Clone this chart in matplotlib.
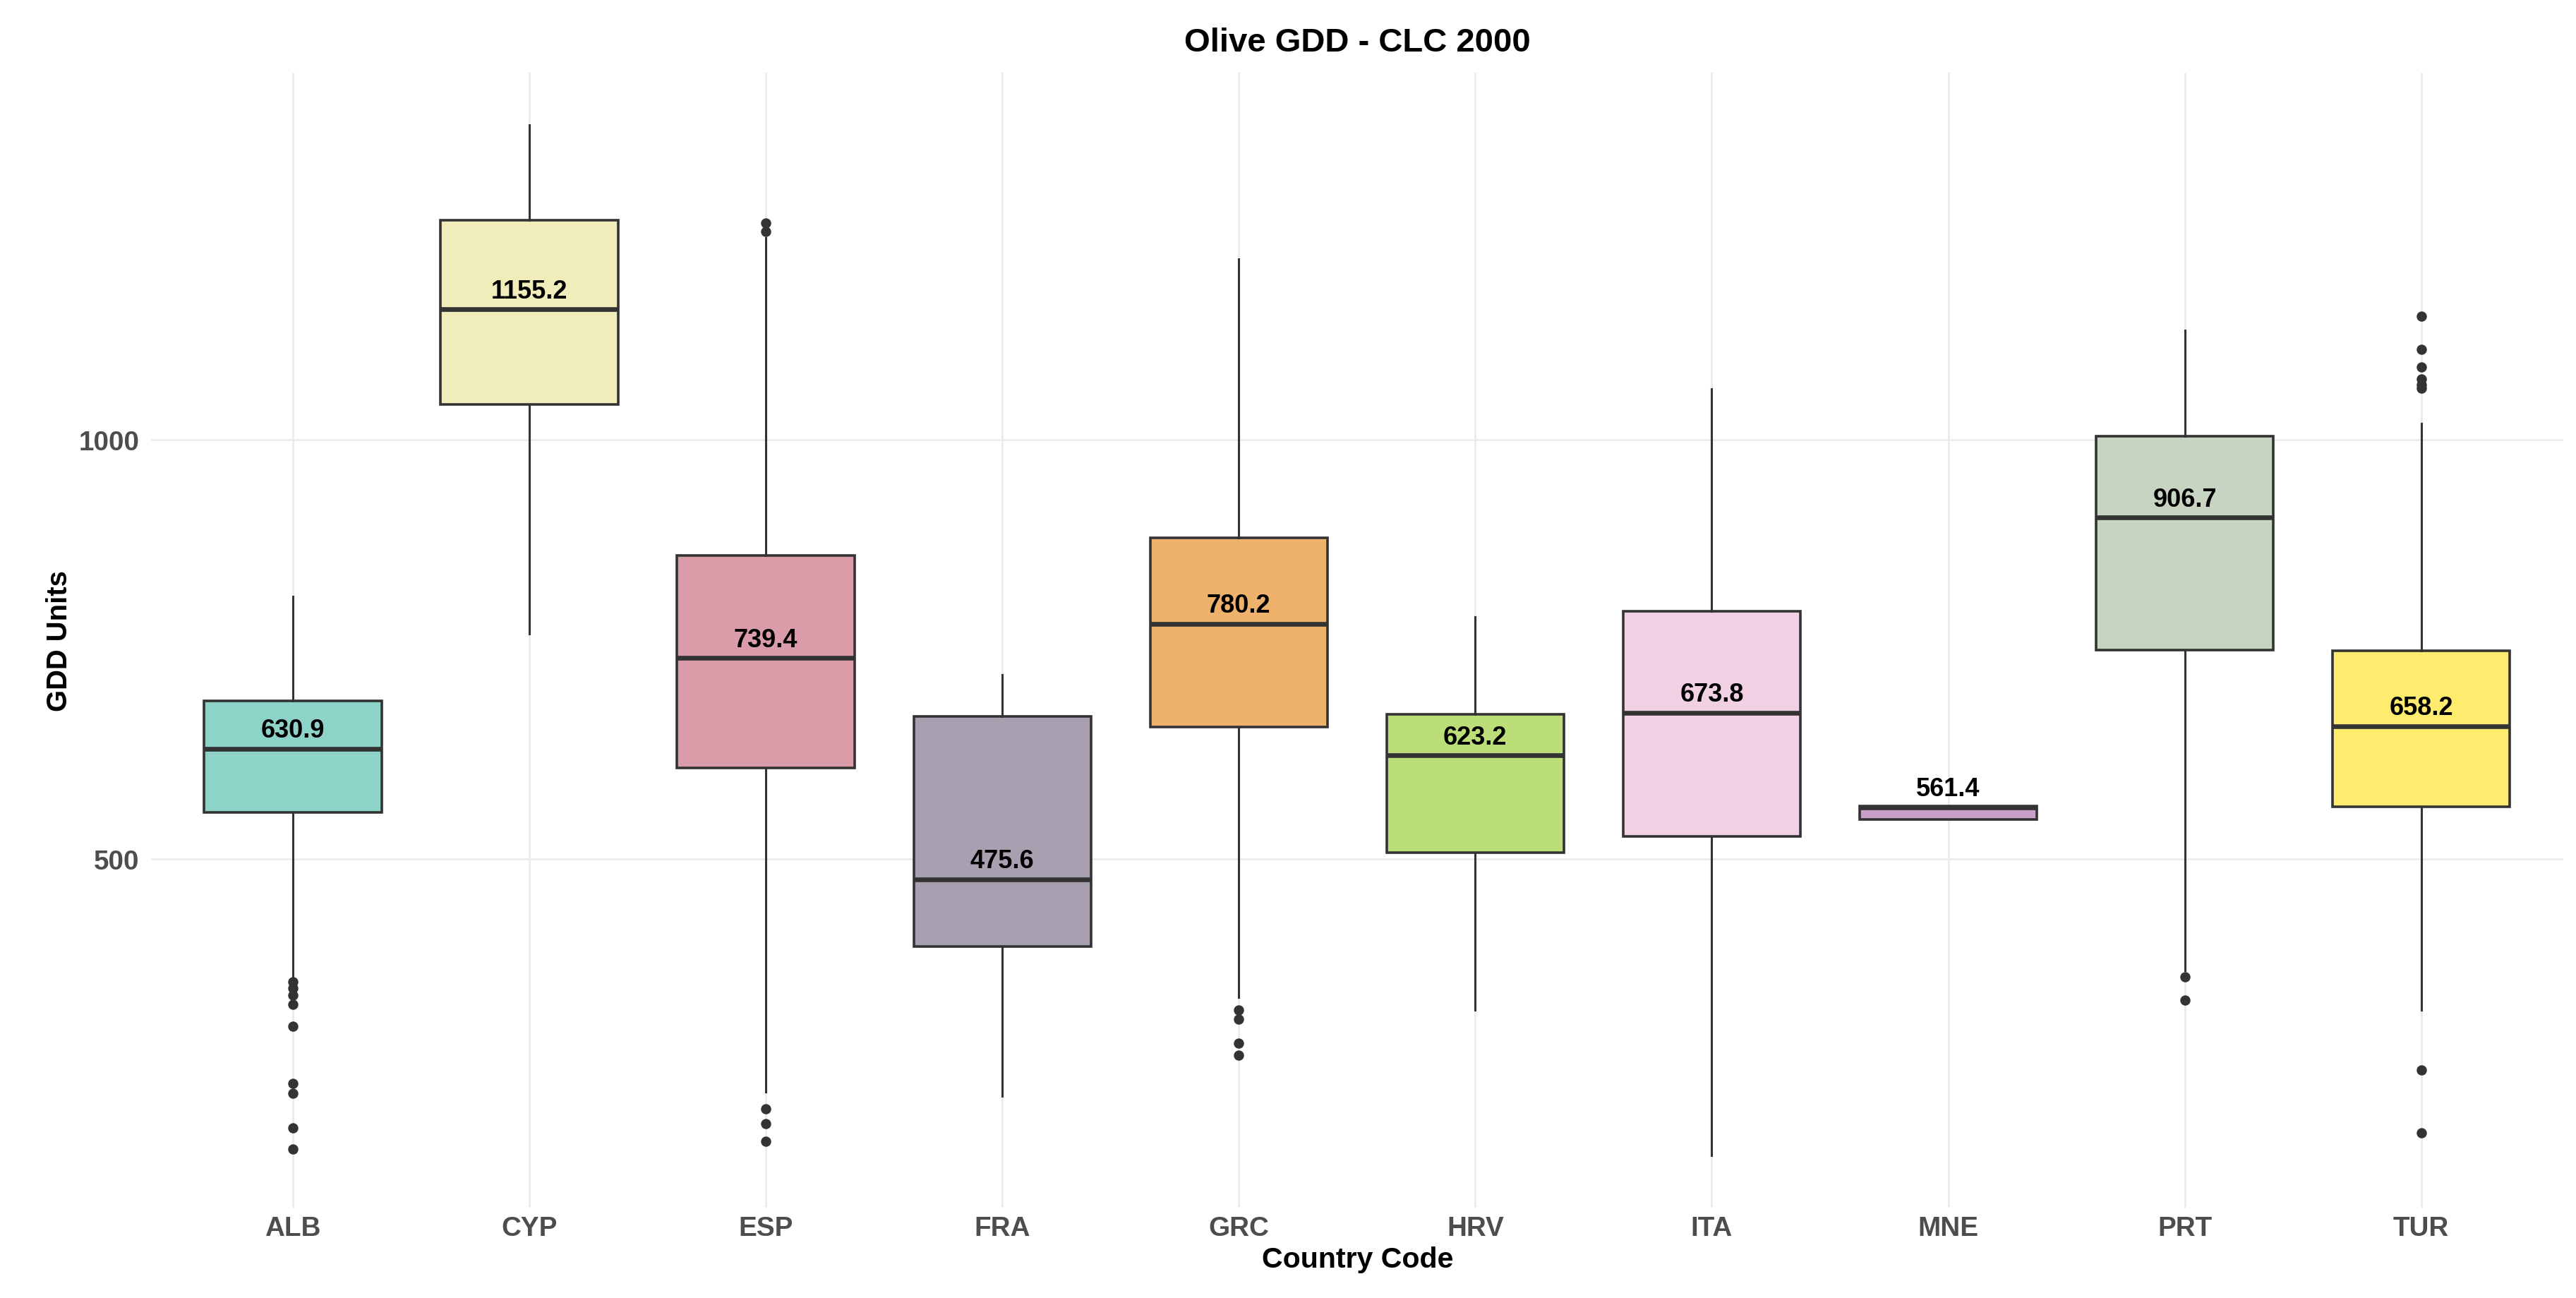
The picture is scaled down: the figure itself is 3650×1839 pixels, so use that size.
import matplotlib
matplotlib.use('Agg')
import matplotlib.pyplot as plt

countries = ['ALB', 'CYP', 'ESP', 'FRA', 'GRC', 'HRV', 'ITA', 'MNE', 'PRT', 'TUR']
medians = [630.9, 1155.2, 739.4, 475.6, 780.2, 623.2, 673.8, 561.4, 906.7, 658.2]
q1 = [555, 1042, 608, 395, 657, 507, 527, 547, 749, 562]
q3 = [688, 1261, 862, 670, 883, 672, 795, 563, 1004, 748]
whisk_lo = [359, 768, 222, 217, 335, 320, 146, 547, 367, 320]
whisk_hi = [813, 1375, 1240, 719, 1215, 788, 1060, 563, 1130, 1019]
outliers = [
    [353, 346, 337, 326, 300, 232, 220, 179, 154],
    [],
    [1258, 1248, 202, 184, 163],
    [],
    [320, 309, 280, 266],
    [],
    [],
    [],
    [359, 331],
    [1147, 1107, 1086, 1072, 1065, 1061, 248, 173],
]
fills = ['#8DD3C7', '#F0EDBA', '#D99CA8', '#A8A0B1', '#EFB26C',
         '#BCDE78', '#F0D0E2', '#C8A0C8', '#C8D4C2', '#FFEB6E']

plt.rcParams['font.family'] = ['Liberation Sans', 'DejaVu Sans']

stats = []
for i, c in enumerate(countries):
    stats.append(dict(label=c, med=medians[i], q1=q1[i], q3=q3[i],
                      whislo=whisk_lo[i], whishi=whisk_hi[i], fliers=outliers[i]))

fig = plt.figure(figsize=(18.25, 9.2), dpi=200)
ax = fig.add_axes([0.0586, 0.0696, 0.9364, 0.874])

pos = list(range(1, len(countries) + 1))
bp = ax.bxp(stats, positions=pos, widths=0.75, patch_artist=True, showcaps=False,
            boxprops=dict(edgecolor='#333333', linewidth=1.3),
            medianprops=dict(color='#333333', linewidth=2.4),
            whiskerprops=dict(color='#333333', linewidth=1.1),
            flierprops=dict(marker='o', markerfacecolor='#333333',
                            markeredgecolor='#333333', markersize=4.2))
for patch, col in zip(bp['boxes'], fills):
    patch.set_facecolor(col)

for x, m in zip(pos, medians):
    ax.annotate('%.1f' % m, (x, m), xytext=(0, 6), textcoords='offset points',
                ha='center', va='baseline', fontsize=13, fontweight='bold', color='black')

ax.set_xlim(0.4, len(countries) + 0.6)
ax.set_ylim(84, 1437.5)
ax.set_yticks([500, 1000])
ax.set_xticks(pos)
ax.set_xticklabels(countries)
ax.tick_params(length=0, labelsize=13.9, labelcolor='#4D4D4D')
ax.tick_params(axis='x', pad=4)
ax.tick_params(axis='y', pad=6)
for lab in ax.get_xticklabels() + ax.get_yticklabels():
    lab.set_fontweight('bold')
ax.grid(True, color='#EBEBEB', linewidth=1.0)
ax.set_axisbelow(True)
for s in ax.spines.values():
    s.set_visible(False)

fig.text(0.527, 0.967, 'Olive GDD - CLC 2000', ha='center', va='center',
         fontsize=17, fontweight='bold')
fig.text(0.527, 0.030, 'Country Code', ha='center', va='center',
         fontsize=14.8, fontweight='bold')
fig.text(0.023, 0.5065, 'GDD Units', ha='center', va='center', rotation=90,
         fontsize=14.4, fontweight='bold')

fig.savefig('out.png', dpi=200, facecolor='white')
